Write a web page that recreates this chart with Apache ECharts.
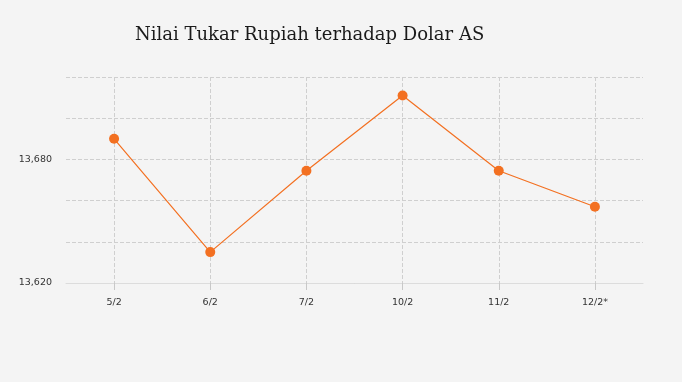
<!DOCTYPE html>
<html><head><meta charset="utf-8">
<script src="https://cdn.jsdelivr.net/npm/echarts@6/dist/echarts.min.js"></script>
<style>html,body{margin:0;padding:0;background:#f4f4f4;}#c{width:682px;height:382px;}</style>
</head><body><div id="c"></div>
<script>
const title = 'Nilai Tukar Rupiah terhadap Dolar AS';
const categories = ['5/2', '6/2', '7/2', '10/2', '11/2', '12/2*'];
const values = [13690, 13635, 13674.5, 13711, 13674.5, 13657];
const yMin = 13620, yMax = 13720, yStep = 20, labelStep = 60;

const chart = echarts.init(document.getElementById('c'));
chart.setOption({
  backgroundColor: '#f4f4f4',
  animation: false,
  title: {
    text: title, left: 130, top: 21,
    textStyle: {fontFamily: 'DejaVu Serif', fontSize: 18, fontWeight: 'normal', color: '#1a1a1a'}
  },
  grid: {left: 66, right: 39, top: 77, bottom: 99},
  xAxis: {
    type: 'category', data: categories, boundaryGap: true,
    axisLine: {lineStyle: {color: '#dcdcdc', width: 1}},
    axisTick: {show: true, alignWithLabel: true, length: 7, lineStyle: {color: '#c8c8c8', width: 1}},
    splitLine: {show: true, alignWithLabel: true, lineStyle: {color: '#cfcfcf', type: 'dashed'}},
    axisLabel: {color: '#333', fontFamily: 'DejaVu Sans', fontSize: 9.5, margin: 15}
  },
  yAxis: {
    type: 'value', min: yMin, max: yMax, interval: yStep,
    axisLine: {show: false}, axisTick: {show: false},
    splitLine: {lineStyle: {color: '#cfcfcf', type: 'dashed'}},
    axisLabel: {
      color: '#333', fontFamily: 'DejaVu Sans', fontSize: 9.5, margin: 14,
      formatter: v => ((v - yMin) % labelStep === 0 ? v.toLocaleString('en-US') : '')
    }
  },
  series: [{
    type: 'line', data: values, symbol: 'circle', symbolSize: 10,
    itemStyle: {color: '#f37021'},
    lineStyle: {color: '#f37021', width: 1.2}
  }]
});
</script></body></html>
